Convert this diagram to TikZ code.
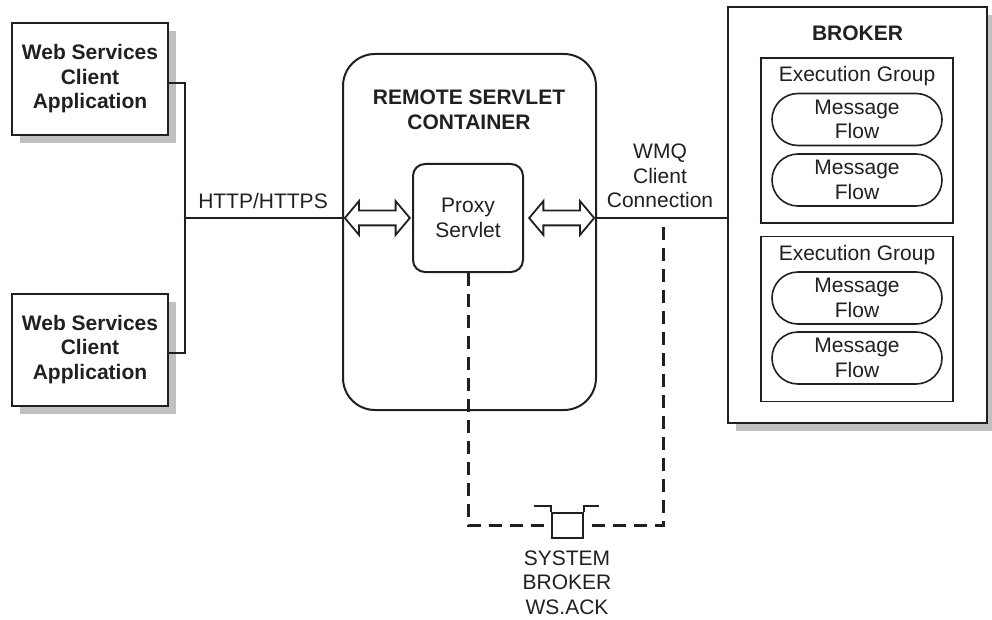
\documentclass[tikz,border=0pt]{standalone}
\usepackage{fontspec}
\setmainfont{Liberation Sans}
\usetikzlibrary{
  arrows.meta,
  shapes.arrows,
  positioning,
  calc,
  shadows
}
\definecolor{xink}{RGB}{35,31,32}
\definecolor{xshade}{RGB}{192,192,192}

\begin{document}
\begin{tikzpicture}[x=1pt, y=-1pt,
  every node/.style={font=\fontsize{21}{24.5}\selectfont, text=xink, align=center},
  title/.style={font=\fontsize{21}{24.5}\selectfont\bfseries},
  client/.style={
    draw=xink, fill=white, line width=2pt,
    minimum width=156pt, minimum height=112pt,
    font=\fontsize{21}{24.5}\selectfont\bfseries,
    drop shadow={shadow xshift=8pt, shadow yshift=-8pt, fill=xshade, opacity=1}
  },
  container/.style={draw=xink, line width=2pt, rounded corners=32pt,
                    minimum width=253pt, minimum height=356pt},
  proxybox/.style={draw=xink, fill=white, line width=2pt, rounded corners=12pt,
                   minimum width=110pt, minimum height=108pt},
  broker/.style={
    draw=xink, fill=white, line width=2pt,
    minimum width=259pt, minimum height=416pt,
    drop shadow={shadow xshift=8pt, shadow yshift=-8pt, fill=xshade, opacity=1}
  },
  group/.style={draw=xink, line width=1.8pt, minimum width=192pt, minimum height=165pt},
  flow/.style={draw=xink, line width=1.6pt, rounded corners=26pt,
               minimum width=170pt, minimum height=52pt, inner sep=0pt},
  dblarrow/.style={double arrow, draw=xink, fill=white, line width=1.8pt,
                   minimum height=65pt, inner sep=6.5pt,
                   double arrow head extend=9.5pt, double arrow tip angle=100},
  queuebox/.style={draw=xink, line width=1.8pt, minimum width=31pt, minimum height=25pt,
                   inner sep=0pt},
  wire/.style={draw=xink, line width=1.8pt},
  dashline/.style={draw=xink, line width=3pt, dash pattern=on 13pt off 8pt}
]
  \useasboundingbox (0,0) rectangle (992,620);

  \node[client] (client1) at (90,79)    {Web Services\\Client\\Application};
  \node[client] (client2) at (90,349.5) {Web Services\\Client\\Application};

  \node[container] (cont) at (469.5,232) {};
  \node[title] (conttitle) at (469,110) {REMOTE SERVLET\\CONTAINER};
  \node[proxybox] (proxy) at (468,218) {Proxy\\Servlet};
  \node[dblarrow, left=1pt of proxy]  (arrowin)  {};
  \node[dblarrow, right=4pt of proxy] (arrowout) {};

  \node[broker] (broker) at (857.5,215) {};
  \node[title] (brokertitle) at (857.5,33) {BROKER};
  \node[group] (eg1) at (857,140.5) {};
  \node[group] (eg2) at (857,319) {};
  \node (eg1lbl) at (857,76.4)  {Execution Group};
  \node (eg2lbl) at (857,254.6) {Execution Group};
  \foreach \nm/\y in {mf1/119.5, mf2/180, mf3/298, mf4/358}
    \node[flow] (\nm) at (857,\y) {Message\\Flow};

  \node[queuebox] (queue) at (567.5,525.5) {};
  \node (queuelbl) at (567,582.5) {SYSTEM\\BROKER\\WS.ACK};

  \node (http) at (263,201) {HTTP/HTTPS};
  \node (wmq) at (660,176) {WMQ\\Client\\Connection};

  \coordinate (jn) at (185,218);
  \coordinate (wmqtap) at (663,227);

  \draw[wire] ($(client1.east)+(0,4)$) -| (jn) |- ($(client2.east)+(0,3.5)$);
  \draw[wire] (jn) -- (cont.west |- jn);
  \draw[wire] (cont.east |- proxy) -- (broker.west |- proxy);

  \draw[dashline] (proxy.south) |- (queue.west);
  \draw[dashline] (wmqtap) |- (queue.east);

  \draw[wire] (queue.north west) -- ++(0,-6) -- ++(-17,0);
  \draw[wire] (queue.north east) -- ++(0,-6) -- ++(15,0);
\end{tikzpicture}
\end{document}
